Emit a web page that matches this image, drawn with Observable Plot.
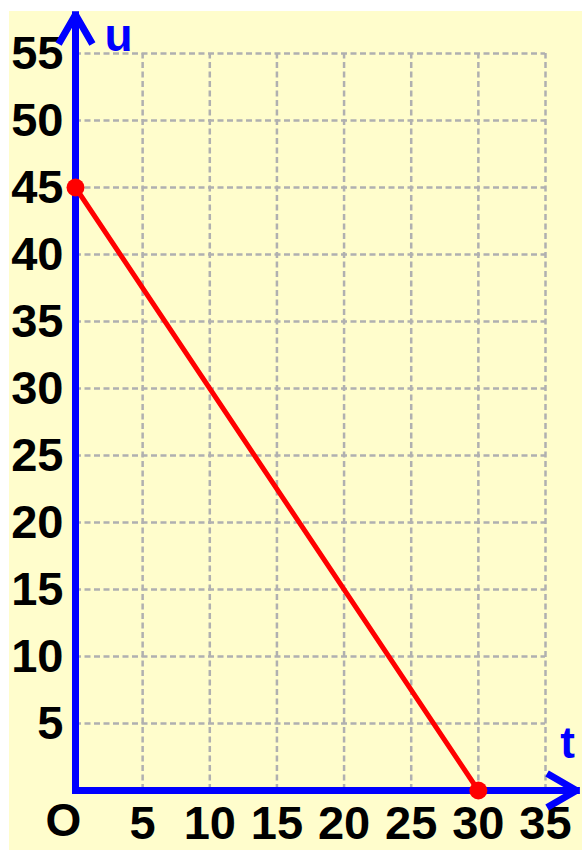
<!DOCTYPE html>
<html><head><meta charset="utf-8">
<script src="https://cdn.jsdelivr.net/npm/d3@7"></script>
<script src="https://cdn.jsdelivr.net/npm/@observablehq/plot@0.6"></script>
<style>
body{margin:0;background:#fff}
#wrap{position:relative;width:582px;height:850px;overflow:hidden}
#bg{position:absolute;left:9px;top:11px;right:0;bottom:0;background:#fffdcc}
#chart{position:absolute;left:0;top:0}
</style></head><body>
<div id="wrap"><div id="bg"></div><div id="chart"></div></div>
<script>
// Data
const tTicks = [5, 10, 15, 20, 25, 30, 35];
const uTicks = [5, 10, 15, 20, 25, 30, 35, 40, 45, 50, 55];
const lineT = [0, 30];
const lineU = [45, 0];
const axisTEnd = 37.3;   // arrow tip of t axis
const axisUEnd = 57.9;   // arrow tip of u axis

const pts = lineT.map((t, i) => ({t, u: lineU[i]}));
const font = "'Liberation Sans', Arial, Helvetica, sans-serif";
const blue = "#0000ff", red = "#ff0000", gray = "#b0b0b0";

const chart = Plot.plot({
  width: 582,
  height: 850,
  marginLeft: 75,
  marginRight: 37,
  marginTop: 53,
  marginBottom: 60,
  x: {domain: [0, 35], ticks: tTicks, tickSize: 0, tickPadding: 15, label: null, tickFormat: d => String(d)},
  y: {domain: [0, 55], ticks: uTicks, tickSize: 0, tickPadding: 12, label: null, tickFormat: d => String(d)},
  style: {background: "transparent", fontFamily: font, fontSize: "47px", fontWeight: "bold", color: "#000", overflow: "visible"},
  marks: [
    Plot.ruleX(tTicks, {x: d => d, y1: 0, y2: 55, stroke: gray, strokeWidth: 2.5, strokeDasharray: "6,3.5"}),
    Plot.ruleY(uTicks, {y: d => d, x1: 0, x2: 35, stroke: gray, strokeWidth: 2.5, strokeDasharray: "6,3.5"}),
    Plot.arrow([{x1: 0, y1: 0, x2: axisTEnd, y2: 0}, {x1: 0, y1: 0, x2: 0, y2: axisUEnd}],
      {x1: "x1", y1: "y1", x2: "x2", y2: "y2", stroke: blue, strokeWidth: 7, headLength: 6.5, strokeLinecap: "square"}),
    Plot.line(pts, {x: "t", y: "u", stroke: red, strokeWidth: 5}),
    Plot.dot(pts, {x: "t", y: "u", r: 9, fill: red}),
    Plot.text(["u"], {text: d => d, frameAnchor: "top-left", dx: 43, dy: -17, lineAnchor: "middle", textAnchor: "middle", fill: blue, fontSize: 46, fontWeight: "bold", fontFamily: font}),
    Plot.text(["t"], {text: d => d, frameAnchor: "bottom-right", dx: 22, dy: -47, lineAnchor: "middle", textAnchor: "middle", fill: blue, fontSize: 44, fontWeight: "bold", fontFamily: font}),
    Plot.text(["O"], {text: d => d, frameAnchor: "bottom-left", dx: -12, dy: 31, lineAnchor: "middle", textAnchor: "middle", fill: "#000", fontSize: 46, fontWeight: "bold", fontFamily: font})
  ]
});
document.getElementById("chart").appendChild(chart);
</script>
</body></html>
